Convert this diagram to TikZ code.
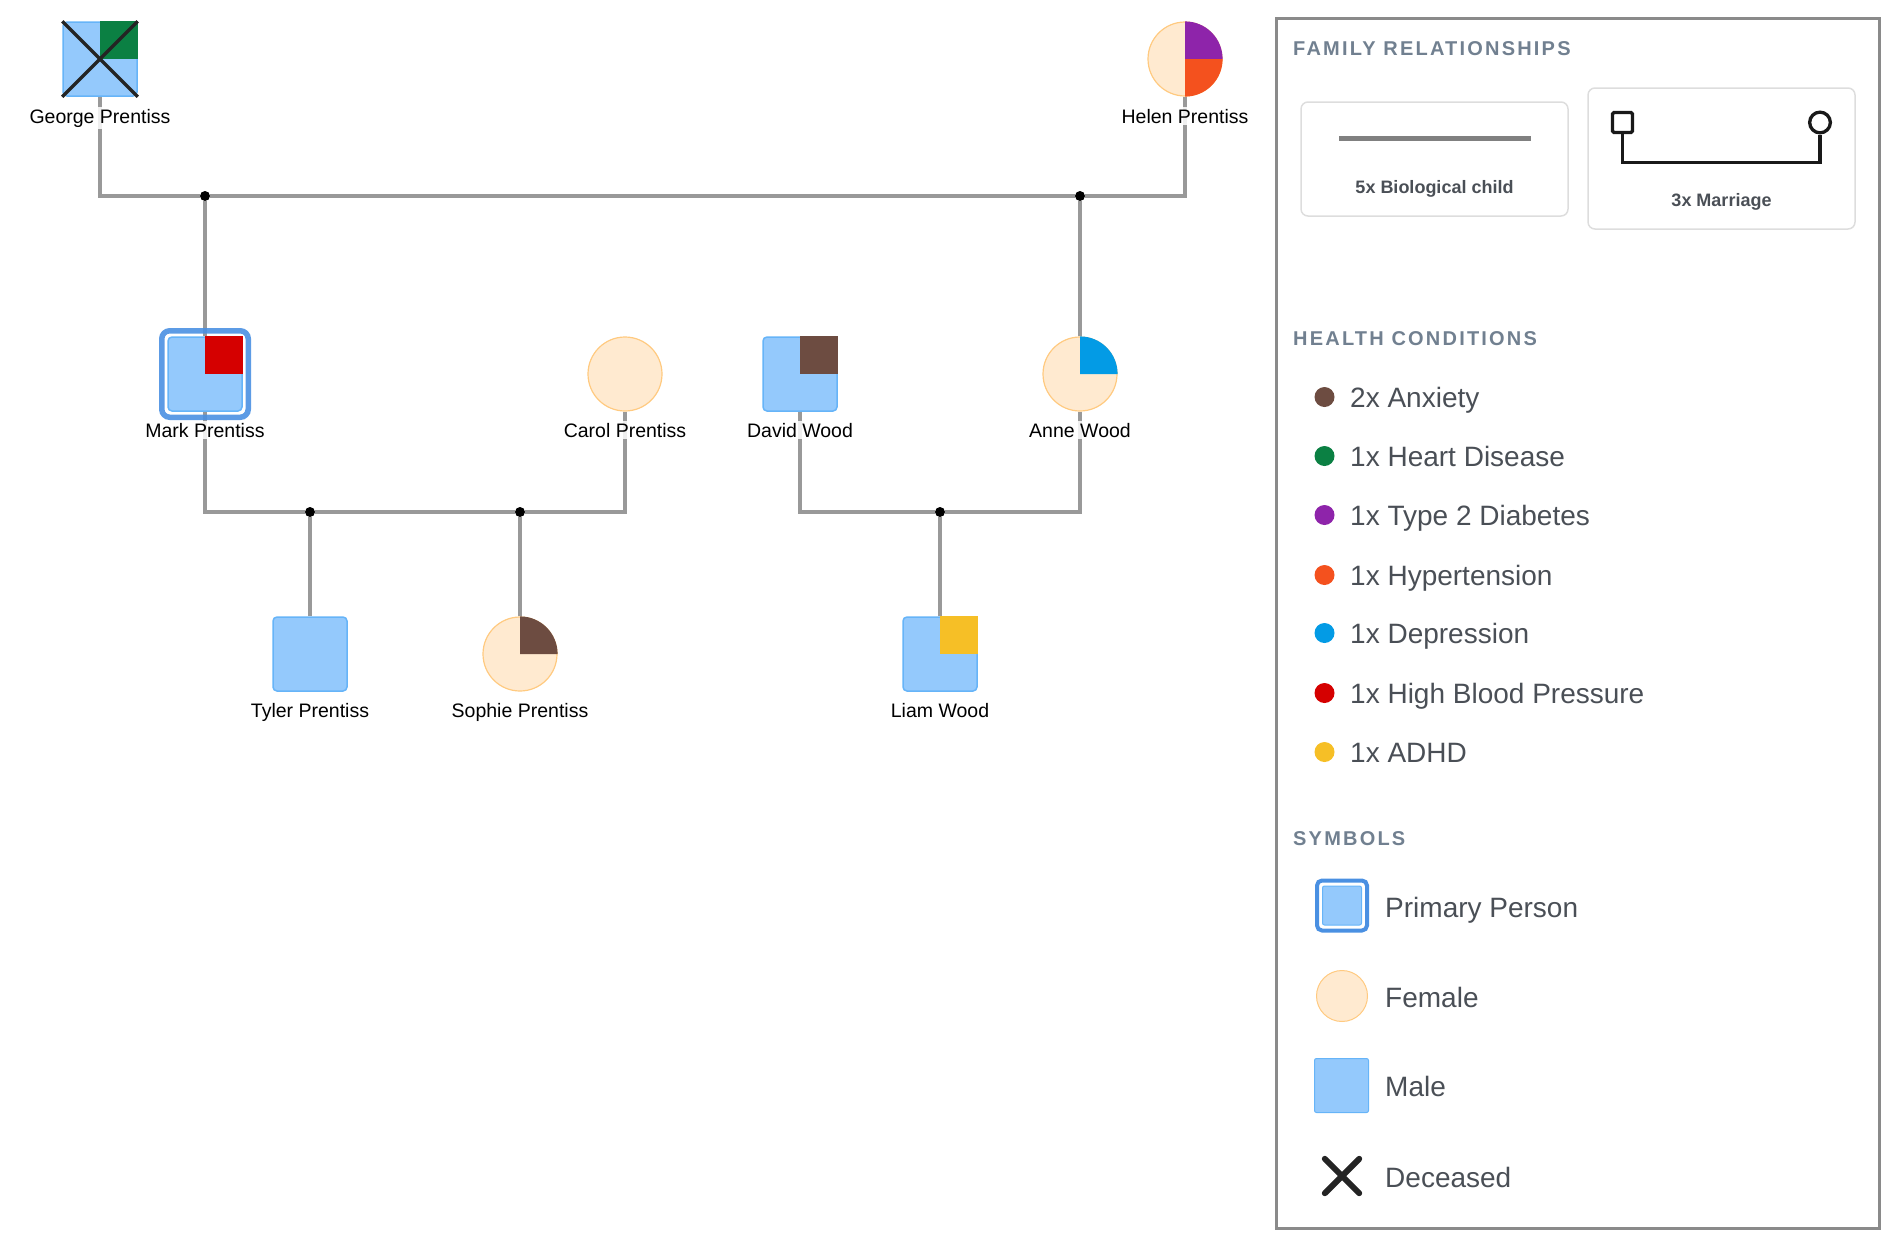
\documentclass[tikz,border=0pt]{standalone}
\usepackage{fontspec}
\setmainfont{Liberation Sans}
\newfontfamily\headfont[LetterSpace=11]{Liberation Sans Bold}

\definecolor{malefill}{HTML}{94C9FC}
\definecolor{maleline}{HTML}{66B4F8}
\definecolor{femalefill}{HTML}{FFEAD0}
\definecolor{femaleline}{HTML}{FFCA80}
\definecolor{relgray}{HTML}{999999}
\definecolor{primblue}{HTML}{4A90E2}
\definecolor{anxiety}{HTML}{6D4C41}
\definecolor{heart}{HTML}{0B8043}
\definecolor{diabetes}{HTML}{8E24AA}
\definecolor{hypert}{HTML}{F4511E}
\definecolor{depress}{HTML}{039BE5}
\definecolor{highbp}{HTML}{D50000}
\definecolor{adhd}{HTML}{F6BF26}
\definecolor{headgray}{HTML}{718090}
\definecolor{legtext}{HTML}{4A4F56}
\definecolor{boxgray}{HTML}{DDDDDD}
\definecolor{framegray}{HTML}{8A8A8A}

\tikzstyle{male} = [rectangle, draw=maleline, fill=malefill, line width=1.5pt, rounded corners=4pt, minimum size=74pt, inner sep=0pt]
\tikzstyle{female} = [circle, draw=femaleline, fill=femalefill, line width=1.2pt, minimum size=74pt, inner sep=0pt]
\tikzstyle{namelbl} = [anchor=base, font=\fontsize{19.5}{22}\selectfont, fill=white, fill opacity=0.85, text opacity=1, inner sep=2pt]
\tikzstyle{rel} = [draw=relgray, line width=3.5pt]
\tikzstyle{junction} = [circle, fill=black, minimum size=10pt, inner sep=0pt]
\tikzstyle{dead} = [draw=black!86, line width=3.5pt]
\tikzstyle{primary} = [rectangle, draw=primblue, line width=5.5pt, rounded corners=8pt, draw opacity=0.9, minimum size=86.5pt, inner sep=0pt]
\tikzstyle{heading} = [anchor=west, font=\headfont\fontsize{20}{22}\selectfont, text=headgray, inner sep=0pt]
\tikzstyle{legitem} = [anchor=base west, font=\fontsize{28}{32}\selectfont, text=legtext, inner sep=0pt]
\tikzstyle{legdot} = [circle, minimum size=20pt, inner sep=0pt]
\tikzstyle{boxlabel} = [anchor=base, font=\bfseries\fontsize{18}{20}\selectfont, text=legtext]
\tikzstyle{legbox} = [draw=boxgray, line width=1.5pt, rounded corners=7pt]

\begin{document}
\begin{tikzpicture}[x=1pt,y=1pt]
  \useasboundingbox (0,0) rectangle (1898,-1248);

  \node (george) at (100,-59) [male] {};
  \node (helen) at (1185,-59) [female] {};
  \node (mark) at (205,-374) [male] {};
  \node (carol) at (625,-374) [female] {};
  \node (david) at (800,-374) [male] {};
  \node (anne) at (1080,-374) [female] {};
  \node (tyler) at (310,-654) [male] {};
  \node (sophie) at (520,-654) [female] {};
  \node (liam) at (940,-654) [male] {};

  \fill [heart] (george.center) rectangle (george.north east);
  \fill [diabetes] (helen.center) -- (helen.north) arc [start angle=90, end angle=0, radius=37.6] -- cycle;
  \fill [hypert] (helen.center) -- (helen.east) arc [start angle=0, end angle=-90, radius=37.6] -- cycle;
  \fill [highbp] (mark.center) rectangle (mark.north east);
  \fill [anxiety] (david.center) rectangle (david.north east);
  \fill [depress] (anne.center) -- (anne.north) arc [start angle=90, end angle=0, radius=37.6] -- cycle;
  \fill [anxiety] (sophie.center) -- (sophie.north) arc [start angle=90, end angle=0, radius=37.6] -- cycle;
  \fill [adhd] (liam.center) rectangle (liam.north east);

  \draw [dead] (george.north west) -- (george.south east);
  \draw [dead] (george.south west) -- (george.north east);

  \node (gh1) at (205,-196) [junction] {};
  \node (gh2) at (1080,-196) [junction] {};
  \node (mc1) at (310,-512) [junction] {};
  \node (mc2) at (520,-512) [junction] {};
  \node (da1) at (940,-512) [junction] {};

  \draw [rel] (george.south) |- (gh1) -- (gh2) -| (helen.south);
  \draw [rel] (gh1) -- (mark.north);
  \draw [rel] (gh2) -- (anne.north);
  \draw [rel] (mark.south) |- (mc1) -- (mc2) -| (carol.south);
  \draw [rel] (mc1) -- (tyler.north);
  \draw [rel] (mc2) -- (sophie.north);
  \draw [rel] (david.south) |- (da1) -| (anne.south);
  \draw [rel] (da1) -- (liam.north);

  \node (markframe) at (mark) [primary] {};

  \node (georgel) at (100,-123) [namelbl] {George Prentiss};
  \node (helenl) at (1185,-123) [namelbl] {Helen Prentiss};
  \node (markl) at (205,-437) [namelbl] {Mark Prentiss};
  \node (caroll) at (625,-437) [namelbl] {Carol Prentiss};
  \node (davidl) at (800,-437) [namelbl] {David Wood};
  \node (annel) at (1080,-437) [namelbl] {Anne Wood};
  \node (tylerl) at (310,-717) [namelbl] {Tyler Prentiss};
  \node (sophiel) at (520,-717) [namelbl] {Sophie Prentiss};
  \node (liaml) at (940,-717) [namelbl] {Liam Wood};

  % legend
  \draw [framegray, line width=3pt] (1276,-18) rectangle (1879,-1228);

  \node (famhead) at (1293,-48.5) [heading] {FAMILY RELATIONSHIPS};
  \draw [legbox] (1301,-102) rectangle (1568,-216);
  \draw [draw=black!50, line width=5pt] (1339,-138) -- (1531,-138);
  \node (biolbl) at (1434.5,-193) [boxlabel] {5x Biological child};
  \draw [legbox] (1588,-88) rectangle (1855,-229);
  \node (msq) at (1622.5,-122.5) [rectangle, draw=black!90, line width=3.3pt, minimum size=20pt, rounded corners=1.5pt] {};
  \node (mci) at (1820,-122.5) [circle, draw=black!90, line width=3.3pt, minimum size=20.7pt, inner sep=0pt] {};
  \draw [draw=black!90, line width=3.3pt] (msq.south) -- ++(0,-28) -| (mci.south);
  \node (marlbl) at (1721.5,-206) [boxlabel] {3x Marriage};

  \node (healthhead) at (1293,-339) [heading] {HEALTH CONDITIONS};
  \node (dotanx) at (1324.5,-397) [legdot, fill=anxiety] {};
  \node (dotheart) at (1324.5,-456) [legdot, fill=heart] {};
  \node (dotdiab) at (1324.5,-515) [legdot, fill=diabetes] {};
  \node (dothyp) at (1324.5,-575) [legdot, fill=hypert] {};
  \node (dotdep) at (1324.5,-633) [legdot, fill=depress] {};
  \node (dotbp) at (1324.5,-693) [legdot, fill=highbp] {};
  \node (dotadhd) at (1324.5,-752) [legdot, fill=adhd] {};
  \node (txtanx) at (1350,-407) [legitem] {2x Anxiety};
  \node (txtheart) at (1350,-466) [legitem] {1x Heart Disease};
  \node (txtdiab) at (1350,-525) [legitem] {1x Type 2 Diabetes};
  \node (txthyp) at (1350,-585) [legitem] {1x Hypertension};
  \node (txtdep) at (1350,-643) [legitem] {1x Depression};
  \node (txtbp) at (1350,-703) [legitem] {1x High Blood Pressure};
  \node (txtadhd) at (1350,-762) [legitem] {1x ADHD};

  \node (symhead) at (1293,-839) [heading] {SYMBOLS};
  \node (symprim) at (1342,-905.5) [primary, draw opacity=1, line width=4pt, minimum size=50pt, rounded corners=5pt] {};
  \node (symprimin) at (1342,-905.5) [male, line width=1pt, minimum size=39pt, rounded corners=2pt] {};
  \node (symfem) at (1342,-996) [female, line width=1pt, minimum size=51pt] {};
  \node (symmale) at (1341.5,-1085.5) [male, line width=1pt, minimum size=54pt, rounded corners=2pt] {};
  \node (symdead) at (1342,-1176) [minimum size=34pt, inner sep=0pt] {};
  \draw [draw=black!86, line width=6pt, line cap=round] (symdead.north west) -- (symdead.south east);
  \draw [draw=black!86, line width=6pt, line cap=round] (symdead.south west) -- (symdead.north east);
  \node (txtprim) at (1385,-917) [legitem] {Primary Person};
  \node (txtfem) at (1385,-1007) [legitem] {Female};
  \node (txtmale) at (1385,-1096) [legitem] {Male};
  \node (txtdead) at (1385,-1187) [legitem] {Deceased};
\end{tikzpicture}
\end{document}
